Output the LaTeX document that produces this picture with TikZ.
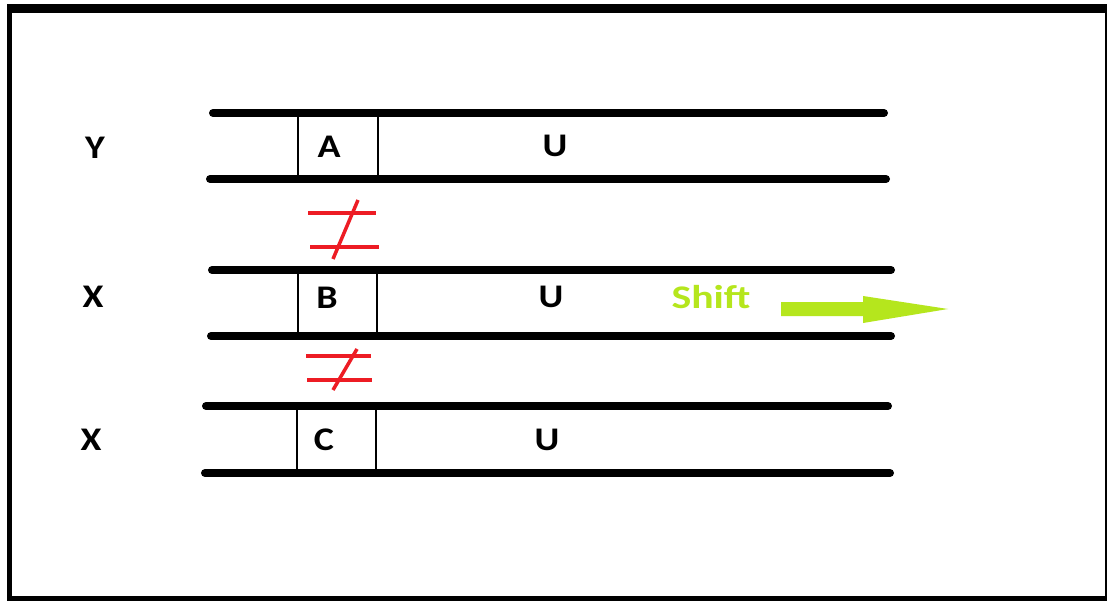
\documentclass[tikz,border=0pt]{standalone}
\usepackage{fontspec}
\setmainfont{Carlito}
\definecolor{markred}{HTML}{ED1C24}
\definecolor{shiftgreen}{HTML}{B5E61D}
\begin{document}
\begin{tikzpicture}[x=1pt,y=-1pt,
  rail/.style={line width=8pt,line cap=round},
  cell/.style={line width=1.2pt},
  lbl/.style={font=\bfseries\fontsize{33}{35}\selectfont,inner sep=0pt,
    anchor=center,xscale=1.15},
  neq/.style={markred,line width=3.5pt}]
\useasboundingbox (0,0) rectangle (1107,601);
% frame
\fill[white] (0,0) rectangle (1107,601);
\fill[black] (7,4) rectangle (1107,13);
\fill[black] (7,4) rectangle (12,601);
\fill[black] (1104.5,4) rectangle (1107,601);
\fill[black] (7,596) rectangle (1107,601);
% rows: rails
\draw[rail] (213,113) -- (884,113);
\draw[rail] (210,179) -- (886,179);
\draw[rail] (212,270) -- (891,270);
\draw[rail] (211,336) -- (891,336);
\draw[rail] (206,406) -- (888,406);
\draw[rail] (205,473) -- (890,473);
% cell separators
\draw[cell] (298,113) -- (298,179);
\draw[cell] (378,113) -- (378,179);
\draw[cell] (298,270) -- (298,336);
\draw[cell] (377,270) -- (377,336);
\draw[cell] (297,406) -- (297,473);
\draw[cell] (376,406) -- (376,473);
% labels
\node[lbl] (y)  at (95,148) {Y};
\node[lbl] (x1) at (93,297) {X};
\node[lbl] (x2) at (91,440) {X};
\node[lbl] (a)  at (329,147) {A};
\node[lbl] (b)  at (327,298) {B};
\node[lbl] (c)  at (324,440) {C};
\node[lbl] (u1) at (555,146) {U};
\node[lbl] (u2) at (551,297) {U};
\node[lbl] (u3) at (547,440) {U};
\node[lbl,text=shiftgreen,xscale=1.1] (shift) at (711,297) {Shift};
% not-equal marks
\draw[neq] (308,213) -- (376,213);
\draw[neq] (310,247) -- (379,247);
\draw[neq] (358,200) -- (333,259);
\draw[neq] (306,356) -- (371,356);
\draw[neq] (307,380) -- (372,380);
\draw[neq] (357,349) -- (333,390);
% shift arrow
\fill[shiftgreen] (781,302) -- (863,302) -- (863,296) -- (948,309)
  -- (863,323) -- (863,316) -- (781,316) -- cycle;
\end{tikzpicture}
\end{document}
